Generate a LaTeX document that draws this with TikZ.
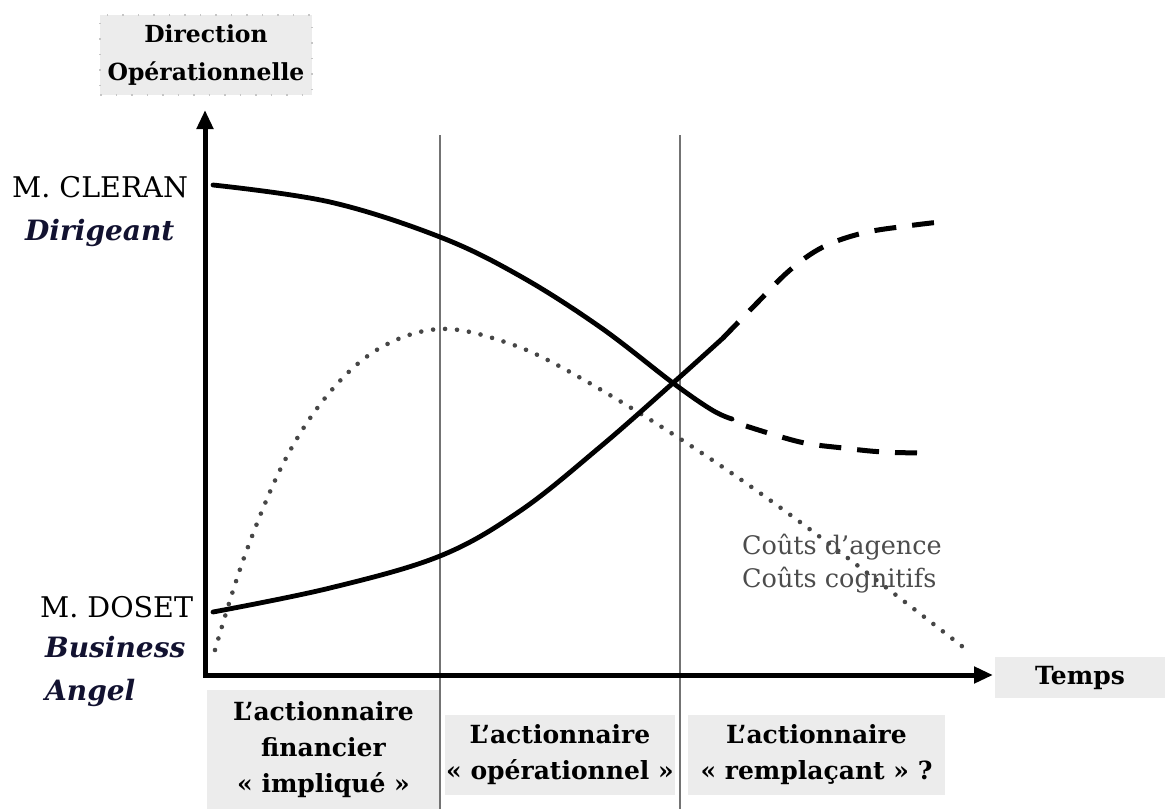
\documentclass[tikz,border=0pt]{standalone}
\usepackage{fontspec}
\setmainfont{DejaVu Serif}
\usetikzlibrary{arrows.meta}
\definecolor{boxgray}{RGB}{236,236,236}
\definecolor{navyink}{RGB}{18,18,48}
\definecolor{dotgray}{RGB}{70,70,70}
\begin{document}
\begin{tikzpicture}[x=1pt,y=-1pt,
  axis/.style={line width=5pt, line join=miter,
    {Triangle[length=19pt,width=16pt]}-{Triangle[length=19pt,width=16pt]}},
  period/.style={line width=1.2pt, draw=black!55},
  curve/.style={line width=4.8pt, line cap=round, line join=round},
  trend/.style={line width=5pt, dash pattern=on 22pt off 16pt},
  cost/.style={line width=4.6pt, dotgray, line cap=round, dash pattern=on 0pt off 12pt},
  band/.style={fill=boxgray, inner sep=0pt, align=center,
    font=\bfseries\fontsize{25}{36}\selectfont},
  who/.style={inner sep=0pt, anchor=base west, font=\fontsize{28.5}{30}\selectfont},
  role/.style={inner sep=0pt, anchor=base west, text=navyink,
    font=\bfseries\itshape\fontsize{28}{30}\selectfont},
  costlabel/.style={inner sep=0pt, anchor=base west, text=black!70,
    font=\fontsize{25.5}{30}\selectfont}
]
\useasboundingbox (0,0) rectangle (1165,809);

% period bands under the time axis
\node[band, minimum width=233pt, minimum height=119pt] (b1) at (323.5,749.5)
  {L’actionnaire\\financier\\« impliqué »};
\node[band, minimum width=230pt, minimum height=80pt] (b2) at (560,755)
  {L’actionnaire\\« opérationnel »};
\node[band, minimum width=257pt, minimum height=80pt] (b3) at (816.5,755)
  {L’actionnaire\\« remplaçant » ?};
\node[band, minimum width=170pt, minimum height=41pt] (temps) at (1080,677.5) {Temps};
\node[band, font=\bfseries\fontsize{23.5}{38}\selectfont,
  minimum width=212pt, minimum height=80pt, draw=gray!45, line width=1.5pt,
  dash pattern=on 1.5pt off 14pt] (dir) at (206,55) {Direction\\Opérationnelle};

% period separators
\coordinate (s1t) at (440,135); \coordinate (s1b) at (440,809);
\coordinate (s2t) at (680,135); \coordinate (s2b) at (680,809);
\draw[period] (s1t) -- (s1b);
\draw[period] (s2t) -- (s2b);

% axes
\coordinate (ytip) at (205,110);
\coordinate (orig) at (205,675);
\coordinate (xtip) at (993,675);
\draw[axis] (ytip) -- (orig) -- (xtip);

% actor labels
\node[who] (cleran) at (12,197) {M. CLERAN};
\node[role] (dirig) at (25,240) {Dirigeant};
\node[who] (doset) at (40,617) {M. DOSET};
\node[role] (busi) at (45,657) {Business};
\node[role] (angel) at (45,700) {Angel};

% cost curve
\draw[cost] plot[smooth, tension=0.6] coordinates {
  (215,650) (245,555) (285,460) (330,392) (380,348) (440,329)
  (505,342) (570,372) (682,440) (800,522) (963,647)};

\node[costlabel] (agence) at (742,554) {Coûts d’agence};
\node[costlabel] (cognit) at (742,587) {Coûts cognitifs};

% executive's role in operations
\draw[curve] plot[smooth, tension=0.6] coordinates {
  (213,185) (330,202) (440,237) (520,276) (600,327)
  (673,383) (712,410) (732,419)};
\draw[trend] plot[smooth, tension=0.6] coordinates {
  (746,426) (800,442) (843,448) (883,452) (925,453)};

% business angel's role in operations
\draw[curve] plot[smooth, tension=0.6] coordinates {
  (213,612) (330,588) (440,556) (520,511) (600,447)
  (673,383) (723,338)};
\draw[trend] plot[smooth, tension=0.6] coordinates {
  (723,338) (757,303) (790,270) (823,247) (863,233) (907,226) (940,222)};
\end{tikzpicture}
\end{document}
